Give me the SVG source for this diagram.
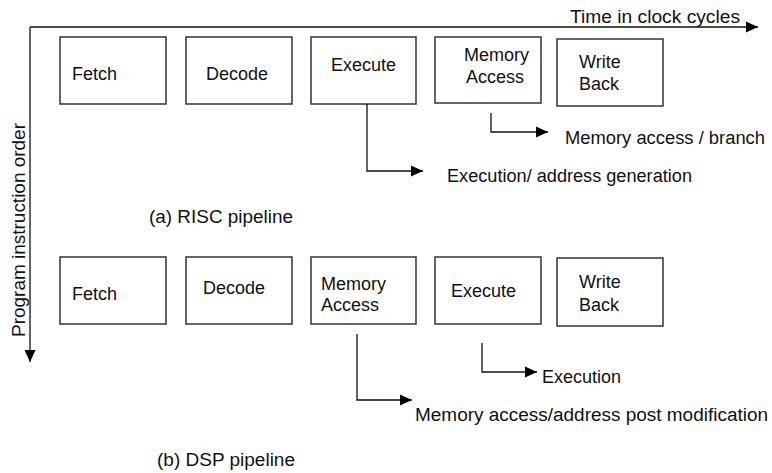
<svg xmlns="http://www.w3.org/2000/svg" width="772" height="473" viewBox="0 0 772 473">
<defs>
<marker id="ah" viewBox="0 0 12 12" refX="12" refY="6" markerWidth="12" markerHeight="12" markerUnits="userSpaceOnUse" orient="auto">
<path d="M0,0.5 L12,6 L0,11.5 Z" fill="#000"/>
</marker>
</defs>
<style>
text{font-family:"Liberation Sans",Arial,Helvetica,sans-serif;font-size:18px;fill:#111}
.box{fill:#fff;stroke:#333;stroke-width:1.5}
.ln{fill:none;stroke:#111;stroke-width:1.3}
</style>
<rect width="772" height="473" fill="#fff"/>
<g id="axes">
<path class="ln" d="M30,27 H758" marker-end="url(#ah)"/>
<path class="ln" d="M30,27 V362" marker-end="url(#ah)"/>
<text x="570" y="23" textLength="170" lengthAdjust="spacingAndGlyphs">Time in clock cycles</text>
<text transform="translate(24.5,337) rotate(-90)" textLength="214" lengthAdjust="spacingAndGlyphs">Program instruction order</text>
</g>
<g id="risc-fetch"><rect class="box" x="60" y="37" width="106" height="67"/><text x="72" y="80">Fetch</text></g>
<g id="risc-decode"><rect class="box" x="186" y="37" width="106" height="67"/><text x="206" y="80">Decode</text></g>
<g id="risc-execute"><rect class="box" x="311" y="37" width="105" height="67"/><text x="331" y="71">Execute</text></g>
<g id="risc-memory"><rect class="box" x="435" y="37" width="106" height="66"/><text x="464" y="61">Memory</text><text x="466" y="83">Access</text></g>
<g id="risc-writeback"><rect class="box" x="557" y="39" width="106" height="67"/><text x="579" y="68">Write</text><text x="579" y="90">Back</text></g>
<g id="risc-labels">
<text x="565" y="144" textLength="200" lengthAdjust="spacingAndGlyphs">Memory access / branch</text>
<text x="447" y="182" textLength="245" lengthAdjust="spacingAndGlyphs">Execution/ address generation</text>
<text x="149" y="223" textLength="144" lengthAdjust="spacingAndGlyphs">(a) RISC pipeline</text>
</g>
<g id="dsp-fetch"><rect class="box" x="60" y="257" width="106" height="67"/><text x="72" y="300">Fetch</text></g>
<g id="dsp-decode"><rect class="box" x="186" y="257" width="106" height="67"/><text x="203" y="294">Decode</text></g>
<g id="dsp-memory"><rect class="box" x="311" y="257" width="105" height="67"/><text x="321" y="290">Memory</text><text x="321" y="311">Access</text></g>
<g id="dsp-execute"><rect class="box" x="435" y="257" width="106" height="67"/><text x="451" y="297">Execute</text></g>
<g id="dsp-writeback"><rect class="box" x="557" y="258" width="106" height="68"/><text x="579" y="288">Write</text><text x="579" y="311">Back</text></g>
<g id="dsp-labels">
<text x="542" y="383">Execution</text>
<text x="415" y="421" textLength="353" lengthAdjust="spacingAndGlyphs">Memory access/address post modification</text>
<text x="157" y="466" textLength="138" lengthAdjust="spacingAndGlyphs">(b) DSP pipeline</text>
</g>
<g id="connectors">
<path class="ln" d="M367,104 V171 H423" marker-end="url(#ah)"/>
<path class="ln" d="M491,113 V132 H548" marker-end="url(#ah)"/>
<path class="ln" d="M357,334 V400 H412" marker-end="url(#ah)"/>
<path class="ln" d="M482,343 V372 H537" marker-end="url(#ah)"/>
</g>
</svg>
